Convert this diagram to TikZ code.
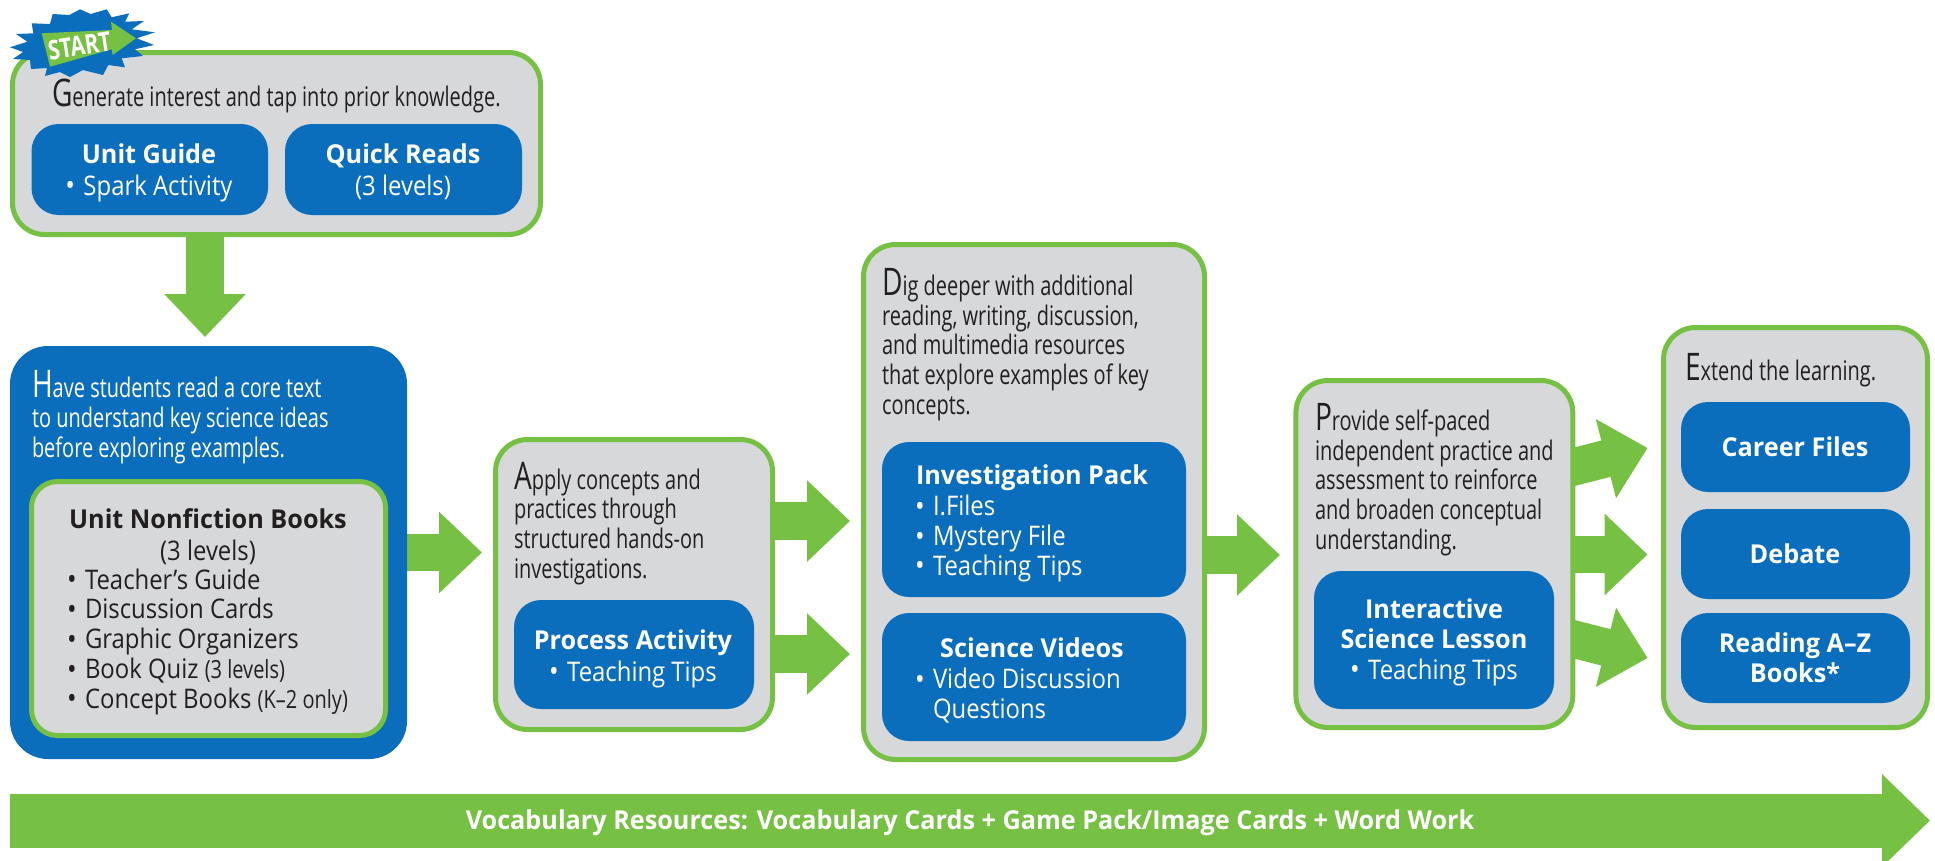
\documentclass[tikz,border=0pt]{standalone}
\usepackage{fontspec}
\setmainfont{Open Sans}
\newfontfamily\condf[FakeStretch=0.74]{Open Sans}
\newfontfamily\listf[FakeStretch=0.885]{Open Sans}
\newfontfamily\smallf[FakeStretch=0.8]{Open Sans}
\newfontfamily\titlef[FakeStretch=0.97]{Open Sans Bold}
\newfontfamily\startf[FakeStretch=0.78]{Open Sans Bold}
\usetikzlibrary{arrows.meta,backgrounds,calc}
\definecolor{grn}{RGB}{118,192,67}
\definecolor{blu}{RGB}{11,110,189}
\definecolor{gry}{RGB}{214,216,218}
\definecolor{ink}{RGB}{35,31,32}
\newcommand\boxat[6]{%
  \pgfmathsetmacro\bxw{#5-#3}\pgfmathsetmacro\bxh{#6-#4}%
  \pgfmathsetmacro\bxx{(#3+#5)/2}\pgfmathsetmacro\bxy{(#4+#6)/2}%
  \node[#1,minimum width=\bxw pt,minimum height=\bxh pt] (#2) at (\bxx,\bxy) {};}
\newcommand\ini[1]{{\fontsize{38}{38}\selectfont #1}}
\newcommand\bigdot{{\fontsize{29}{29}\selectfont\raisebox{-0.7pt}{•}}}
\newcommand\bul{\makebox[18pt][l]{\bigdot}}
\newcommand\paren[1]{{\smallf\fontsize{25}{25}\selectfont #1}}
\tikzset{
  shapebase/.style={inner sep=0pt,outer sep=0pt,rectangle},
  graybox/.style={shapebase,draw=grn,line width=5pt,fill=gry,rounded corners=32pt},
  innerbox/.style={shapebase,draw=grn,line width=5pt,fill=gry,rounded corners=26pt},
  bigblue/.style={shapebase,fill=blu,rounded corners=38pt},
  btn/.style={shapebase,fill=blu,rounded corners=27pt},
  para/.style={inner sep=0pt,outer sep=0pt,anchor=base west,align=left,text=ink,
    font=\condf\fontsize{27}{29.6}\selectfont},
  parawhite/.style={para,text=white},
  title/.style={inner sep=0pt,outer sep=0pt,anchor=base,align=center,text=white,
    font=\titlef\fontsize{26}{30}\selectfont},
  sub/.style={inner sep=0pt,outer sep=0pt,anchor=base,align=center,text=white,
    font=\listf\fontsize{27}{30}\selectfont},
  lst/.style={inner sep=0pt,outer sep=0pt,anchor=base west,align=left,text=white,
    font=\listf\fontsize{27}{29.7}\selectfont},
  flow/.style={draw=grn,line width=37.5pt,-{Triangle[length=43pt,width=79pt,fill=grn]}},
}
\begin{document}
\begin{tikzpicture}[x=1pt,y=-1pt]
\path[use as bounding box,clip] (0,0) rectangle (1935,860);

% --- boxes
\boxat{graybox}{gen}{12.5}{52.5}{540.5}{234.5}
\boxat{btn}{unitguide}{31.5}{124}{268}{215}
\boxat{btn}{quickreads}{285}{124}{522}{215}
\boxat{bigblue}{have}{10}{346}{407}{759}
\boxat{innerbox}{books}{31.5}{481.5}{385.5}{735.5}
\boxat{graybox}{apply}{495.5}{439.5}{772.5}{729.5}
\boxat{btn}{process}{514}{600}{754}{709}
\boxat{graybox}{dig}{863.5}{244.5}{1204.5}{759.5}
\boxat{btn}{invest}{882}{442}{1186}{597}
\boxat{btn}{videos}{882}{613}{1186}{741}
\boxat{graybox}{provide}{1295.9}{380.5}{1572.8}{727.5}
\boxat{btn}{lesson}{1314}{571}{1554}{709}
\boxat{graybox}{extend}{1663.5}{327.5}{1927.5}{727.5}
\boxat{btn}{career}{1681}{402}{1910}{492}
\boxat{btn}{debate}{1681}{509}{1910}{599}
\boxat{btn}{reading}{1681}{613}{1910}{703}

% --- texts
\node[para] (gentext) at (52,106) {\ini{G}enerate interest and tap into prior knowledge.};
\node[title] (ugt) at (149,163) {Unit Guide};
\node[sub] (ugs) at (149,195) {\bul Spark Activity};
\node[title] (qrt) at (403,163) {Quick Reads};
\node[sub] (qrs) at (403,195) {(3 levels)};

\node[parawhite] (havetext) at (32,457) {\ini{H}ave students read a core text\\to understand key science ideas\\before exploring examples.};
\node[title,text=ink] (bookst) at (208,528) {Unit Nonfiction Books};
\node[sub,text=ink] (bookss) at (208,560) {(3 levels)};
\node[lst,text=ink] (booksl) at (67,708) {\bul Teacher’s Guide\\\bul Discussion Cards\\\bul Graphic Organizers\\\bul Book Quiz \paren{(3 levels)}\\\bul Concept Books \paren{(K–2 only)}};

\node[para] (applytext) at (514,578) {\ini{A}pply concepts and\\practices through\\structured hands-on\\investigations.};
\node[title] (pat) at (633,649) {Process Activity};
\node[sub] (pas) at (633,681) {\bul Teaching Tips};

\node[para] (digtext) at (882,414) {\ini{D}ig deeper with additional\\reading, writing, discussion,\\and multimedia resources\\that explore examples of key\\concepts.};
\node[title] (ipt) at (1032,484) {Investigation Pack};
\node[lst] (ipl) at (915,575) {\bul I.Files\\\bul Mystery File\\\bul Teaching Tips};
\node[title] (svt) at (1032,657) {Science Videos};
\node[lst] (svl) at (915,718) {\bul Video Discussion\\\hspace*{18pt}Questions};

\node[para] (provtext) at (1315,549) {\ini{P}rovide self-paced\\independent practice and\\assessment to reinforce\\and broaden conceptual\\understanding.};
\node[title] (ilt) at (1434,648) {Interactive\\Science Lesson};
\node[sub] (ils) at (1434,679) {\bul Teaching Tips};

\node[para] (exttext) at (1685,380) {\ini{E}xtend the learning.};
\node[title] (cft) at (1795,456) {Career Files};
\node[title] (dbt) at (1795,563) {Debate};
\node[title] (rdt) at (1795,682) {Reading A–Z\\Books*};

% --- flow arrows, behind the boxes
\coordinate (tipdown) at (205,337);
\coordinate (tiphave) at (482,552.5);
\coordinate (tipa1) at (850,521);
\coordinate (tipa2) at (850,654);
\coordinate (tipdig) at (1280,555);
\coordinate (tipp1) at (1647.6,448);
\coordinate (tipp2) at (1647.6,554.5);
\coordinate (tipp3) at (1647.6,658);
\coordinate (tailp1) at (1557.6,471);
\coordinate (tailp3) at (1557.6,635);
\begin{scope}[on background layer]
\draw[flow] (gen.south -| tipdown) -- (tipdown);
\draw[flow] (have.east |- tiphave) -- (tiphave);
\draw[flow] (apply.east |- tipa1) -- (tipa1);
\draw[flow] (apply.east |- tipa2) -- (tipa2);
\draw[flow] (dig.east |- tipdig) -- (tipdig);
\draw[flow] (tailp1) -- (tipp1);
\draw[flow] (provide.east |- tipp2) -- (tipp2);
\draw[flow] (tailp3) -- (tipp3);
\end{scope}

% --- vocabulary band
\coordinate (vocstart) at (10,820.5);
\coordinate (vocend) at (1930,820.5);
\draw[draw=grn,line width=54pt,-{Triangle[length=48pt,width=90pt,fill=grn]}] (vocstart) -- (vocend);
\node[title] (voc) at (970,829) {Vocabulary Resources: Vocabulary Cards + Game Pack/Image Cards + Word Work};

% --- start badge
\fill[blu] (10,47.3) -- (27.3,41.7) -- (16,34) -- (33.3,33.3) -- (31.7,23.3) -- (50,24) -- (52.7,14) -- (69.3,15) -- (80,9.3) -- (90.7,14) -- (106.7,9.3) -- (111.7,17.3) -- (129.3,13.3) -- (125,21.7) -- (144,21) -- (131.7,29.3) -- (155,32.3) -- (136.7,38.3) -- (154,45) -- (135,49.3) -- (143,56) -- (121.7,58.3) -- (125,67.3) -- (108.3,65) -- (103,75) -- (83,70) -- (70,77) -- (60,72) -- (45,76) -- (47,68) -- (31,69) -- (30,60) -- (13,59) -- (23,52) -- cycle;
\fill[grn] (41.7,33.3) -- (112,30) -- (111,21.7) -- (136,38.3) -- (112.7,55) -- (111.7,49.3) -- (50,66.7) -- cycle;
\node[inner sep=0pt,text=white,rotate=9,font=\startf\fontsize{27}{27}\selectfont] (starttext) at (79.5,46) {START};
\end{tikzpicture}
\end{document}
